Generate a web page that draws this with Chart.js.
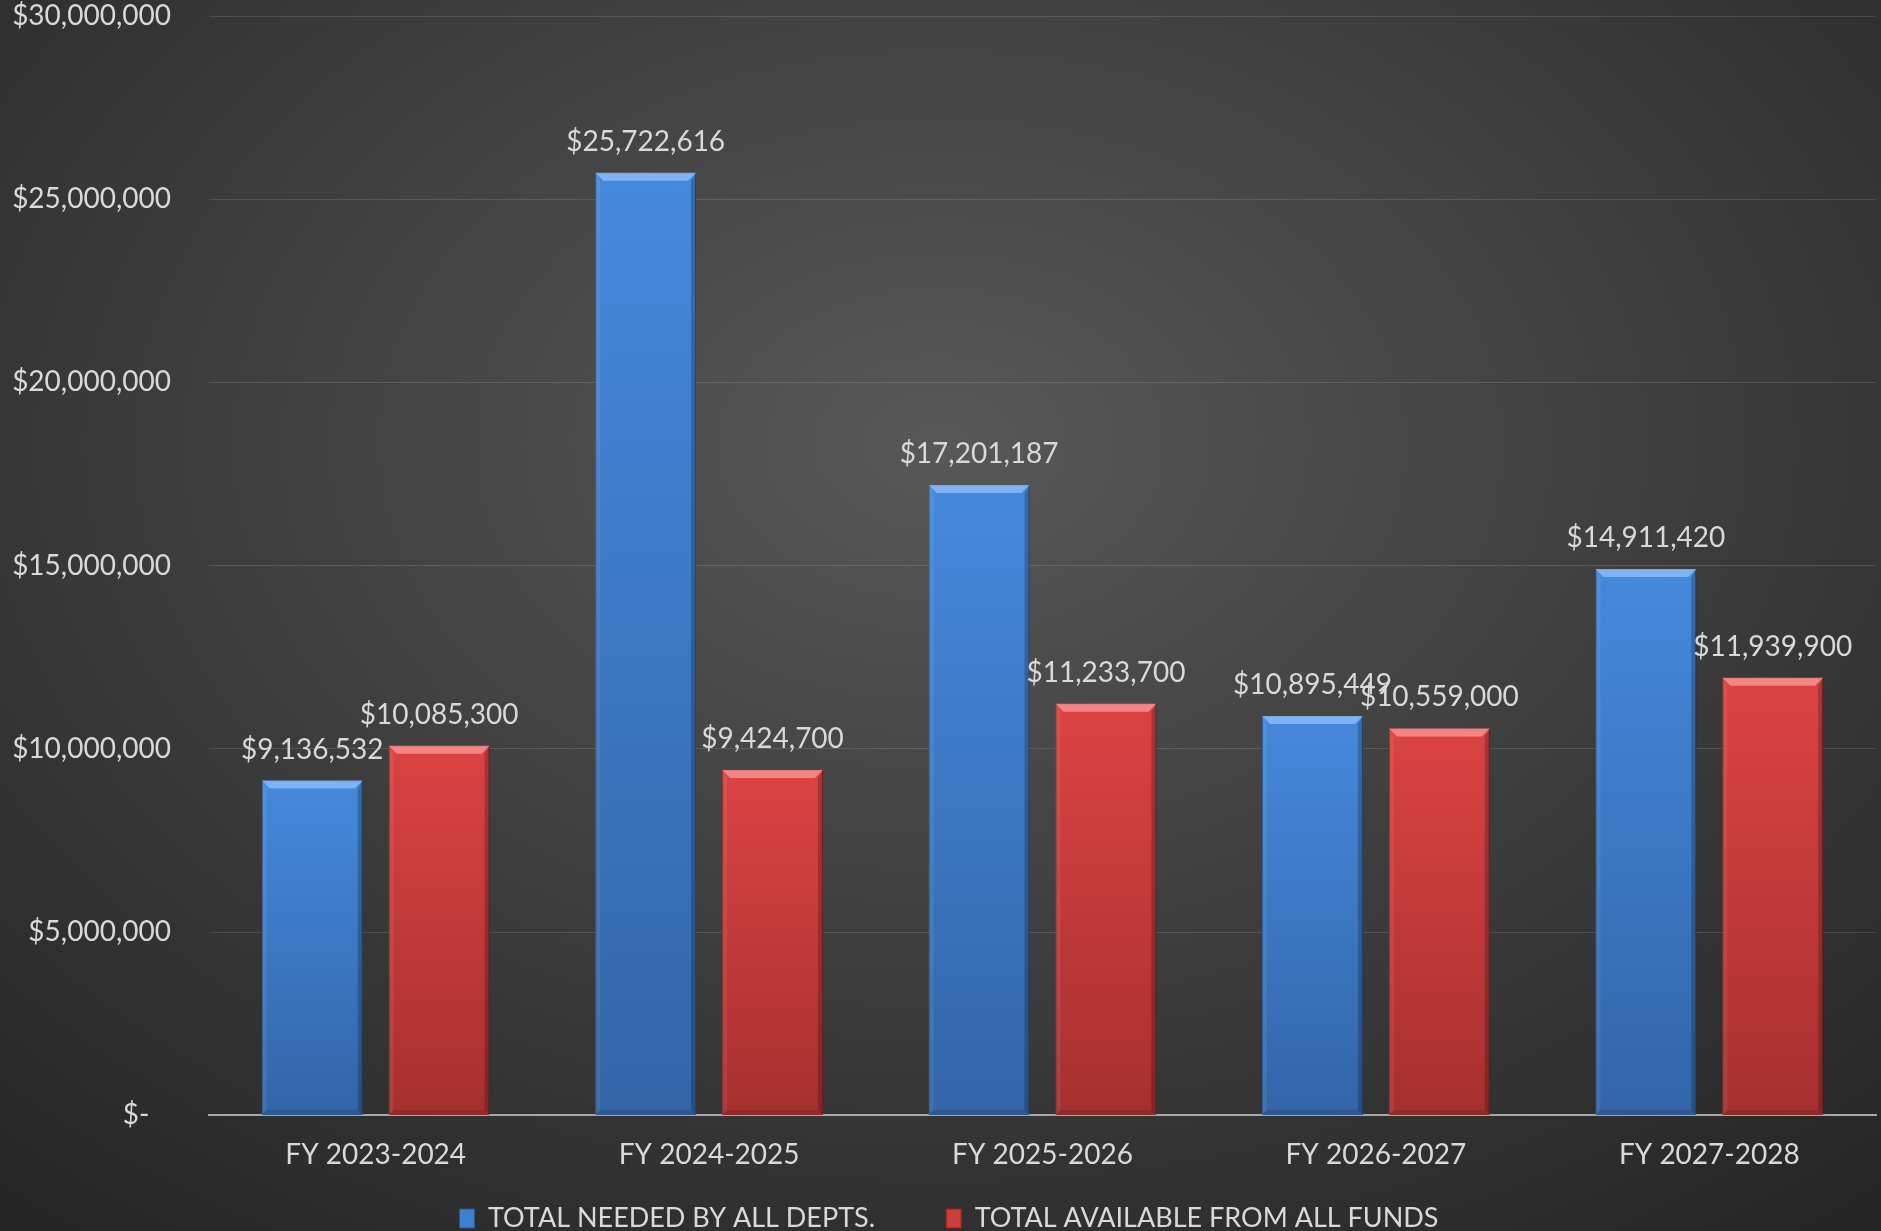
<!DOCTYPE html>
<html>
<head>
<meta charset="utf-8">
<script src="https://cdn.jsdelivr.net/npm/chart.js@4.4.1/dist/chart.umd.min.js"></script>
<style>
  html, body { margin: 0; padding: 0; }
  #wrap {
    width: 1881px; height: 1231px; position: relative;
    background: radial-gradient(ellipse 75% 80% at 50% 36%, #585858 0%, #3c3c3c 55%, #262626 100%);
  }
</style>
</head>
<body>
<div id="wrap"><canvas id="diagram" width="1881" height="1231"></canvas></div>
<script>
// data
var aar = ['FY 2023-2024', 'FY 2024-2025', 'FY 2025-2026', 'FY 2026-2027', 'FY 2027-2028'];
var needed = [9136532, 25722616, 17201187, 10895449, 14911420];
var available = [10085300, 9424700, 11233700, 10559000, 11939900];
var serieNamn = ['TOTAL NEEDED BY ALL DEPTS.', 'TOTAL AVAILABLE FROM ALL FUNDS'];
var yMax = 30000000, yStep = 5000000;

var tekstFarge = '#d9d9d9';
var fontNamn = 'Lato, "Open Sans", sans-serif';

function gel(id) {
    return document.getElementById(id);
}
function dollar(v) {
    if (v == 0) return '$-   ';
    return '$' + v.toLocaleString('en-US');
}

// gradient fill per bar, top to base
function barFill(topCol, botCol) {
    return function(c) {
        var ys = c.chart.scales.y;
        if (!ys || c.parsed == null) return topCol;
        var yTop = ys.getPixelForValue(c.parsed.y);
        var yBot = ys.getPixelForValue(0);
        if (!isFinite(yTop) || yBot - yTop < 1) return topCol;
        var g = c.chart.ctx.createLinearGradient(0, yTop, 0, yBot);
        g.addColorStop(0, topCol);
        g.addColorStop(1, botCol);
        return g;
    };
}

// let the y labels use the full left margin (no clipping)
var venstrePlugin = {
    id: 'venstre',
    afterLayout: function(chart) {
        chart.scales.y.left = 0;
    }
};

// bevel + value labels
var bevelPlugin = {
    id: 'bevel',
    afterDatasetsDraw: function(chart) {
        var ctx = chart.ctx;
        chart.data.datasets.forEach(function(ds, di) {
            var meta = chart.getDatasetMeta(di);
            meta.data.forEach(function(bar) {
                var l = bar.x - bar.width / 2, r = bar.x + bar.width / 2;
                var t = bar.y, b = bar.base, e = 8;
                ctx.save();
                ctx.fillStyle = ds.bevelTop;
                ctx.beginPath();
                ctx.moveTo(l, t); ctx.lineTo(r, t); ctx.lineTo(r - e, t + e); ctx.lineTo(l + e, t + e);
                ctx.closePath(); ctx.fill();
                ctx.fillStyle = 'rgba(0,0,0,0.22)';
                ctx.beginPath();
                ctx.moveTo(r, t); ctx.lineTo(r, b); ctx.lineTo(r - 5, b - 5); ctx.lineTo(r - 5, t + e);
                ctx.closePath(); ctx.fill();
                ctx.fillStyle = 'rgba(0,0,0,0.12)';
                ctx.beginPath();
                ctx.moveTo(l, b); ctx.lineTo(r, b); ctx.lineTo(r - 5, b - 5); ctx.lineTo(l + 5, b - 5);
                ctx.closePath(); ctx.fill();
                ctx.fillStyle = 'rgba(255,255,255,0.07)';
                ctx.beginPath();
                ctx.moveTo(l, t); ctx.lineTo(l, b); ctx.lineTo(l + 5, b - 5); ctx.lineTo(l + 5, t + e);
                ctx.closePath(); ctx.fill();
                ctx.restore();
            });
        });
        ctx.save();
        ctx.font = '28px ' + fontNamn;
        ctx.fillStyle = tekstFarge;
        ctx.textAlign = 'center';
        ctx.textBaseline = 'middle';
        chart.data.datasets.forEach(function(ds, di) {
            var meta = chart.getDatasetMeta(di);
            meta.data.forEach(function(bar, i) {
                ctx.fillText(dollar(ds.data[i]), bar.x, bar.y - 31);
            });
        });
        ctx.restore();
    }
};

Chart.defaults.font.family = fontNamn;
Chart.defaults.font.size = 28;
Chart.defaults.color = tekstFarge;

var diagram = new Chart(gel('diagram').getContext('2d'), {
    type: 'bar',
    data: {
        labels: aar,
        datasets: [{
            label: serieNamn[0],
            data: needed,
            backgroundColor: barFill('#4589dc', '#3365a8'),
            borderColor: '#2b5690',
            borderWidth: 1,
            bevelTop: 'rgba(140,190,250,0.8)',
            legendFill: '#3f7fd0',
            categoryPercentage: 0.761,
            barPercentage: 0.795
        }, {
            label: serieNamn[1],
            data: available,
            backgroundColor: barFill('#db4342', '#a6302f'),
            borderColor: '#8e2524',
            borderWidth: 1,
            bevelTop: 'rgba(250,150,150,0.8)',
            legendFill: '#d03c3b',
            categoryPercentage: 0.761,
            barPercentage: 0.795
        }]
    },
    options: {
        responsive: false,
        animation: false,
        layout: { padding: { top: 0, right: 5, left: 22, bottom: -11 } },
        plugins: {
            tooltip: { enabled: false },
            legend: {
                position: 'bottom',
                labels: {
                    boxWidth: 15,
                    boxHeight: 19,
                    padding: 2,
                    font: { size: 27 },
                    color: tekstFarge,
                    generateLabels: function(chart) {
                        return chart.data.datasets.map(function(ds, i) {
                            return {
                                text: i == 0 ? ds.label + '          ' : ds.label,
                                fillStyle: ds.legendFill,
                                strokeStyle: ds.borderColor,
                                lineWidth: 1,
                                fontColor: tekstFarge,
                                hidden: false,
                                datasetIndex: i
                            };
                        });
                    }
                }
            }
        },
        scales: {
            x: {
                grid: { display: false, drawTicks: false },
                border: { color: '#a8a8a8', width: 2 },
                ticks: { padding: 23, color: tekstFarge, font: { size: 28 } },
                afterFit: function(s) { s.height += 8; }
            },
            y: {
                min: 0,
                max: yMax,
                grid: { color: 'rgba(255,255,255,0.13)', lineWidth: 1, drawTicks: false },
                border: { display: false },
                ticks: {
                    stepSize: yStep,
                    padding: 38,
                    color: tekstFarge,
                    font: { size: 28 },
                    callback: function(v) { return dollar(v); }
                },
                afterFit: function(s) {
                    s.width = 187;
                    s.paddingTop = 16;
                    s.paddingBottom = 17;
                }
            }
        }
    },
    plugins: [venstrePlugin, bevelPlugin]
});
</script>
</body>
</html>
